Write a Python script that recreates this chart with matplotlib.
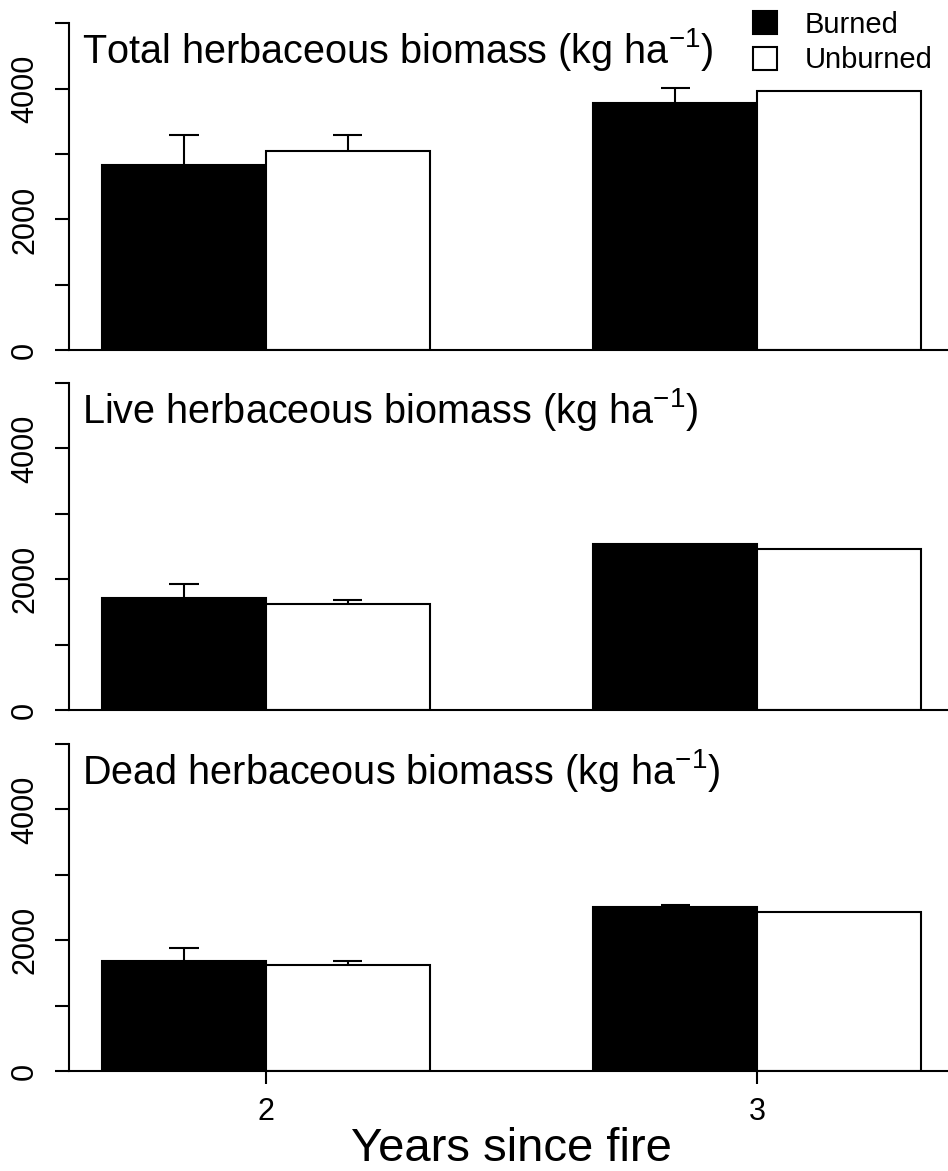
import matplotlib
matplotlib.use('Agg')
import matplotlib.pyplot as plt
from matplotlib.patches import Patch

plt.rcParams['font.family'] = ['Liberation Sans', 'DejaVu Sans']
plt.rcParams['mathtext.fontset'] = 'custom'
plt.rcParams['mathtext.rm'] = 'Liberation Sans'
plt.rcParams['mathtext.it'] = 'Liberation Sans:italic'
plt.rcParams['mathtext.default'] = 'regular'

# data (means and upper SE bars)
years = ['2', '3']
titles = ['Total herbaceous biomass (kg ha$^{-1}$)',
          'Live herbaceous biomass (kg ha$^{-1}$)',
          'Dead herbaceous biomass (kg ha$^{-1}$)']
total_burned = [2835, 3780]
total_burned_se = [450, 235]
total_unburned = [3040, 3965]
total_unburned_se = [245, 0]
live_burned = [1715, 2545]
live_burned_se = [205, 0]
live_unburned = [1618, 2469]
live_unburned_se = [66, 0]
dead_burned = [1681, 2504]
dead_burned_se = [198, 36]
dead_unburned = [1615, 2428]
dead_unburned_se = [66, 0]

panels = [(total_burned, total_burned_se, total_unburned, total_unburned_se),
          (live_burned, live_burned_se, live_unburned, live_unburned_se),
          (dead_burned, dead_burned_se, dead_unburned, dead_unburned_se)]

W, H = 948, 1171
fig = plt.figure(figsize=(W/100, H/100), dpi=100)

left = 69.2/W
width = 884.6/W
tops = [23.3, 383, 744]
ph = 327.0
lw = 1.5
cap = 0.09

# group centres like R barplot(beside=TRUE): bars at 1-2, 2-3 / 4-5, 5-6
centers = [2 + 3*i for i in range(len(years))]

axes = []
for k, (b, bse, u, use) in enumerate(panels):
    ax = fig.add_axes([left, 1 - (tops[k] + ph)/H, width, ph/H])
    axes.append(ax)
    xb = [c - 0.5 for c in centers]
    xu = [c + 0.5 for c in centers]
    ax.bar(xb, b, width=1, color='black', edgecolor='black', linewidth=lw, zorder=2)
    ax.bar(xu, u, width=1, color='white', edgecolor='black', linewidth=lw, zorder=2)
    for xs, ms, ses in [(xb, b, bse), (xu, u, use)]:
        for x, m, s in zip(xs, ms, ses):
            if s <= 0:
                continue
            ax.vlines(x, m, m + s, color='black', linewidth=lw, zorder=3)
            ax.hlines(m + s, x - cap, x + cap, color='black', linewidth=lw, zorder=3)
    ax.set_xlim(0.8, 6.2)
    ax.set_ylim(0, 5000)
    ax.spines['top'].set_visible(False)
    ax.spines['right'].set_visible(False)
    ax.spines['left'].set_linewidth(lw)
    ax.spines['bottom'].set_linewidth(lw)
    ax.set_yticks(range(0, 5001, 1000))
    ax.set_yticklabels(['0', '', '2000', '', '4000', ''])
    ax.tick_params(axis='y', length=10, width=lw, pad=11, labelsize=22, labelrotation=90)
    for t in ax.get_yticklabels():
        t.set_va('center')
    ax.text(0.0145, 1 - 40/ph, titles[k], transform=ax.transAxes,
            fontsize=28.5, ha='left', va='baseline')
    if k < 2:
        ax.set_xticks([])
    else:
        ax.set_xticks(centers)
        ax.set_xticklabels(years)
        ax.tick_params(axis='x', length=9, width=lw, pad=10, labelsize=22)
        ax.set_xlabel('Years since fire', fontsize=34, labelpad=0)

handles = [Patch(facecolor='black', edgecolor='black', linewidth=lw),
           Patch(facecolor='white', edgecolor='black', linewidth=lw)]
fig.legend(handles, ['Burned', 'Unburned'], loc='upper left',
           bbox_to_anchor=(753/W, 1 - 11/H), frameon=False, fontsize=21,
           handlelength=0.83, handleheight=0.83, handletextpad=0.95,
           labelspacing=0.25, borderpad=0, borderaxespad=0)

fig.savefig('out.png', dpi=100)
